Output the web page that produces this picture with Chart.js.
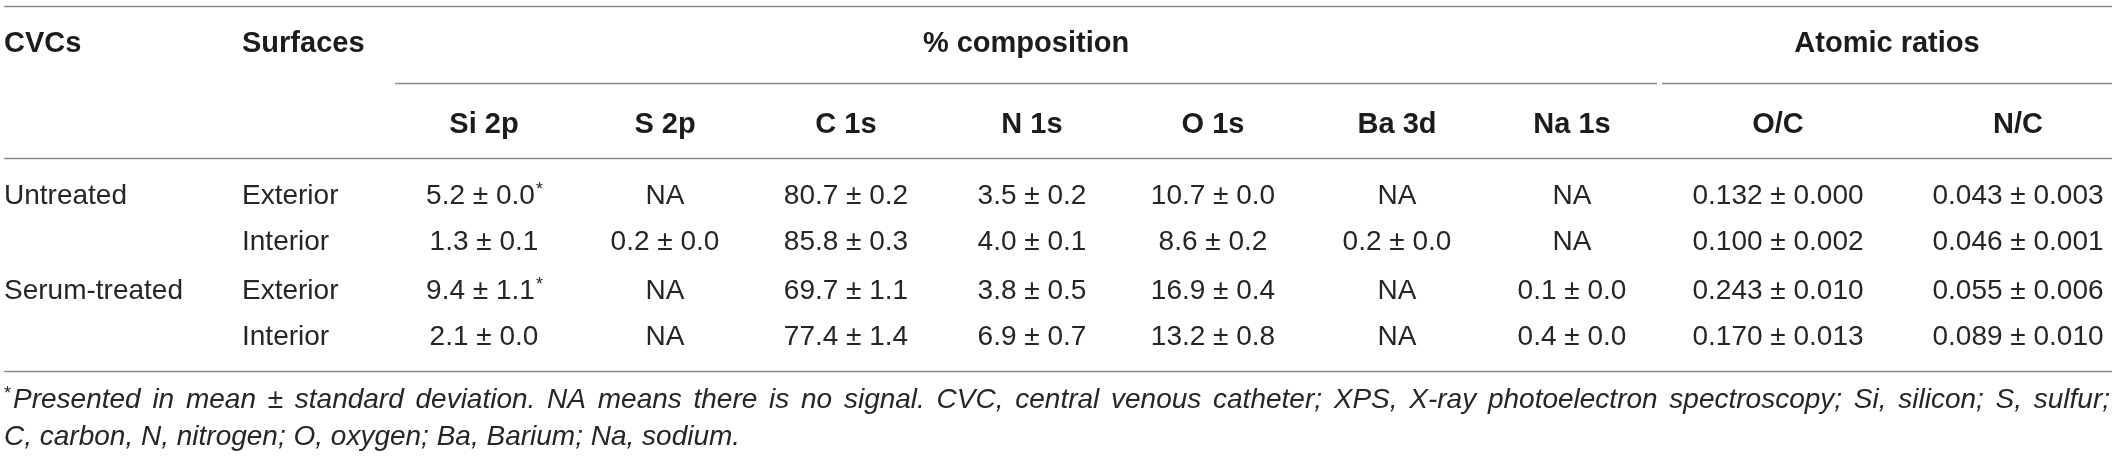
<!DOCTYPE html>
<html>
<head>
<meta charset="utf-8">
<script src="https://cdn.jsdelivr.net/npm/chart.js@4.4.1/dist/chart.umd.min.js"></script>
<style>
  html, body { margin: 0; padding: 0; background: #fff; }
  canvas { display: block; }
</style>
</head>
<body>
<canvas id="xpsTable" width="2117" height="457"></canvas>
<script>
// ---- table content ----
const cvcs = ["Untreated", "", "Serum-treated", ""];
const surfaces = ["Exterior", "Interior", "Exterior", "Interior"];
const elementCols = ["Si 2p", "S 2p", "C 1s", "N 1s", "O 1s", "Ba 3d", "Na 1s"];
const ratioCols = ["O/C", "N/C"];

// mean / sd per column, null means NA (no signal)
const si2pMean = [5.2, 1.3, 9.4, 2.1];
const si2pSd = [0.0, 0.1, 1.1, 0.0];
const s2pMean = [null, 0.2, null, null];
const s2pSd = [null, 0.0, null, null];
const c1sMean = [80.7, 85.8, 69.7, 77.4];
const c1sSd = [0.2, 0.3, 1.1, 1.4];
const n1sMean = [3.5, 4.0, 3.8, 6.9];
const n1sSd = [0.2, 0.1, 0.5, 0.7];
const o1sMean = [10.7, 8.6, 16.9, 13.2];
const o1sSd = [0.0, 0.2, 0.4, 0.8];
const ba3dMean = [null, 0.2, null, null];
const ba3dSd = [null, 0.0, null, null];
const na1sMean = [null, null, 0.1, 0.4];
const na1sSd = [null, null, 0.0, 0.0];
const ocMean = [0.132, 0.100, 0.243, 0.170];
const ocSd = [0.000, 0.002, 0.010, 0.013];
const ncMean = [0.043, 0.046, 0.055, 0.089];
const ncSd = [0.003, 0.001, 0.006, 0.010];
const si2pFlag = [true, false, true, false];

const footnoteLines = [
  "Presented in mean \u00b1 standard deviation. NA means there is no signal. CVC, central venous catheter; XPS, X-ray photoelectron spectroscopy; Si, silicon; S, sulfur;",
  "C, carbon, N, nitrogen; O, oxygen; Ba, Barium; Na, sodium."
];

// ---- layout (scale units) ----
const LAYOUT = {
  left: 4, right: 2112,
  cvcsX: 4, surfX: 242,
  colX: [484, 665, 846, 1032, 1213, 1397, 1572, 1778, 2018],
  spanComp: [395, 1657], spanRatio: [1662, 2112],
  headY1: 42, headY2: 123,
  rowY: [194, 240, 289, 335],
  footY: [398, 435],
  rules: [6, 158, 371], spanRule: 83
};
const FONT = '"Liberation Sans", Arial, Helvetica, sans-serif';
const TEXT = "#262626";
const HEAD = "#1c1c1c";
const RULE = "#8a8a8a";

const columns = [
  { mean: si2pMean, sd: si2pSd, dec: 1, flag: si2pFlag },
  { mean: s2pMean, sd: s2pSd, dec: 1 },
  { mean: c1sMean, sd: c1sSd, dec: 1 },
  { mean: n1sMean, sd: n1sSd, dec: 1 },
  { mean: o1sMean, sd: o1sSd, dec: 1 },
  { mean: ba3dMean, sd: ba3dSd, dec: 1 },
  { mean: na1sMean, sd: na1sSd, dec: 1 },
  { mean: ocMean, sd: ocSd, dec: 3 },
  { mean: ncMean, sd: ncSd, dec: 3 }
];

function fmt(mean, sd, dec) {
  if (mean == null) return "NA";
  return mean.toFixed(dec) + " \u00b1 " + sd.toFixed(dec);
}

// one point per cell, placed by the scales
const cellPoints = [];
const cellLabels = [];
columns.forEach((col, c) => {
  col.mean.forEach((m, r) => {
    cellPoints.push({ x: LAYOUT.colX[c], y: LAYOUT.rowY[r] });
    cellLabels.push({ text: fmt(m, col.sd[r], col.dec), star: !!(col.flag && col.flag[r]) });
  });
});

function baseline(y, size) { return y + size * 0.36; }

const tablePlugin = {
  id: "tableText",
  afterDatasetsDraw(chart) {
    const { ctx, scales: { x, y } } = chart;
    ctx.save();

    // rules
    ctx.strokeStyle = RULE;
    ctx.lineWidth = 1.6;
    const hline = (x0, x1, yv) => {
      const py = Math.round(y.getPixelForValue(yv)) + 0.5;
      ctx.beginPath();
      ctx.moveTo(x.getPixelForValue(x0), py);
      ctx.lineTo(x.getPixelForValue(x1), py);
      ctx.stroke();
    };
    LAYOUT.rules.forEach(r => hline(LAYOUT.left, LAYOUT.right, r));
    hline(LAYOUT.spanComp[0], LAYOUT.spanComp[1], LAYOUT.spanRule);
    hline(LAYOUT.spanRatio[0], LAYOUT.spanRatio[1], LAYOUT.spanRule);

    // header row 1
    ctx.fillStyle = HEAD;
    ctx.font = "bold 29px " + FONT;
    ctx.textBaseline = "alphabetic";
    const hy1 = baseline(y.getPixelForValue(LAYOUT.headY1), 29);
    ctx.textAlign = "left";
    ctx.fillText("CVCs", x.getPixelForValue(LAYOUT.cvcsX), hy1);
    ctx.fillText("Surfaces", x.getPixelForValue(LAYOUT.surfX), hy1);
    ctx.textAlign = "center";
    ctx.fillText("% composition", x.getPixelForValue((LAYOUT.spanComp[0] + LAYOUT.spanComp[1]) / 2), hy1);
    ctx.fillText("Atomic ratios", x.getPixelForValue((LAYOUT.spanRatio[0] + LAYOUT.spanRatio[1]) / 2), hy1);

    // header row 2
    const hy2 = baseline(y.getPixelForValue(LAYOUT.headY2), 29);
    elementCols.concat(ratioCols).forEach((name, i) => {
      ctx.fillText(name, x.getPixelForValue(LAYOUT.colX[i]), hy2);
    });

    // row labels
    ctx.fillStyle = TEXT;
    ctx.font = "28px " + FONT;
    ctx.textAlign = "left";
    LAYOUT.rowY.forEach((ry, r) => {
      const by = baseline(y.getPixelForValue(ry), 28);
      if (cvcs[r]) ctx.fillText(cvcs[r], x.getPixelForValue(LAYOUT.cvcsX), by);
      ctx.fillText(surfaces[r], x.getPixelForValue(LAYOUT.surfX), by);
    });

    // cells from dataset elements
    const meta = chart.getDatasetMeta(0);
    meta.data.forEach((el, i) => {
      const lab = cellLabels[i];
      const by = baseline(el.y, 28);
      ctx.font = "28px " + FONT;
      const w = ctx.measureText(lab.text).width;
      let wa = 0;
      if (lab.star) {
        ctx.font = "18px " + FONT;
        wa = ctx.measureText("*").width;
      }
      const x0 = el.x - (w + wa) / 2;
      ctx.textAlign = "left";
      ctx.font = "28px " + FONT;
      ctx.fillText(lab.text, x0, by);
      if (lab.star) {
        ctx.font = "18px " + FONT;
        ctx.fillText("*", x0 + w + 1, by - 9);
      }
    });

    // footnote, first line justified
    const fl = x.getPixelForValue(LAYOUT.left);
    const fr = x.getPixelForValue(LAYOUT.right - 2);
    const fy1 = baseline(y.getPixelForValue(LAYOUT.footY[0]), 28);
    const fy2 = baseline(y.getPixelForValue(LAYOUT.footY[1]), 28);
    ctx.font = "18px " + FONT;
    ctx.fillText("*", fl, fy1 - 9);
    const starW = ctx.measureText("*").width + 2;
    ctx.font = "italic 28px " + FONT;
    const words = footnoteLines[0].split(" ");
    const widths = words.map(w => ctx.measureText(w).width);
    const total = widths.reduce((a, b) => a + b, 0);
    const gap = (fr - fl - starW - total) / (words.length - 1);
    let cx = fl + starW;
    words.forEach((w, i) => {
      ctx.fillText(w, cx, fy1);
      cx += widths[i] + gap;
    });
    ctx.fillText(footnoteLines[1], fl, fy2);

    ctx.restore();
  }
};

new Chart(document.getElementById("xpsTable"), {
  type: "scatter",
  data: {
    datasets: [{
      data: cellPoints,
      pointRadius: 0,
      pointHoverRadius: 0,
      showLine: false
    }]
  },
  options: {
    responsive: false,
    animation: false,
    devicePixelRatio: 1,
    layout: { padding: 0 },
    events: [],
    plugins: { legend: { display: false }, tooltip: { enabled: false } },
    scales: {
      x: { type: "linear", min: 0, max: 2117, display: false },
      y: { type: "linear", min: 0, max: 457, reverse: true, display: false }
    }
  },
  plugins: [tablePlugin]
});
</script>
</body>
</html>
